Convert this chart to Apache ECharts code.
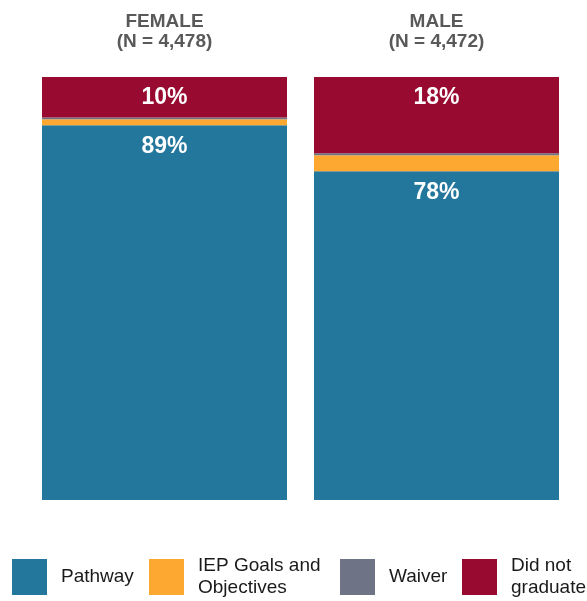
<!DOCTYPE html>
<html><head><meta charset="utf-8">
<script src="https://cdn.jsdelivr.net/npm/echarts@6/dist/echarts.min.js"></script>
<style>html,body{margin:0;padding:0;background:#fff}#c{width:587px;height:601px}</style>
</head><body><div id="c"></div>
<script>
var categories = ['FEMALE\n(N = 4,478)', 'MALE\n(N = 4,472)'];
var pathway = [88.6, 77.7];
var iep = [1.4, 3.8];
var waiver = [0.4, 0.5];
var didNotGraduate = [9.6, 18.0];
var seriesNames = ['Pathway', 'IEP Goals and Objectives', 'Waiver', 'Did not graduate'];
var legendLabels = ['Pathway', 'IEP Goals and\nObjectives', 'Waiver', 'Did not\ngraduate'];
var colors = ['#23769c', '#fda831', '#6e7385', '#990a30'];

var FONT = 'Liberation Sans, Arial, sans-serif';
var chart = echarts.init(document.getElementById('c'));
var lbl = {show:true, position:'insideTop', distance:9.5, color:'#fff', fontSize:23, fontWeight:'bold', fontFamily:FONT, formatter:function(p){return Math.round(p.value)+'%';}};
function mk(name, data, color, showLabel){
  return {name:name, type:'bar', stack:'s', data:data, barWidth:245, itemStyle:{color:color},
    label: showLabel ? lbl : {show:false}, emphasis:{disabled:true}};
}
var legendLeft = [12, 149, 340, 462];
var legendTop = [559, 555, 559, 555];
var legends = seriesNames.map(function(n, i){
  return {data:[n], left:legendLeft[i], top:legendTop[i], padding:0, itemWidth:35, itemHeight:36, icon:'rect',
    formatter:function(){return legendLabels[i];},
    textStyle:{fontSize:19, color:'#1a1a1a', lineHeight:22, padding:[0,0,0,9], fontFamily:FONT}};
});
chart.setOption({
  animation:false,
  textStyle:{fontFamily:FONT},
  grid:{left:28.5, right:14.5, top:77, bottom:101},
  xAxis:{type:'category', position:'top', data:categories, axisLine:{show:false}, axisTick:{show:false},
    axisLabel:{margin:25, fontSize:19, fontWeight:'bold', color:'#595959', lineHeight:20, fontFamily:FONT}},
  yAxis:{type:'value', min:0, max:100, show:false},
  legend:legends,
  series:[
    mk(seriesNames[0], pathway, colors[0], true),
    mk(seriesNames[1], iep, colors[1], false),
    mk(seriesNames[2], waiver, colors[2], false),
    mk(seriesNames[3], didNotGraduate, colors[3], true)
  ]
});
</script></body></html>
